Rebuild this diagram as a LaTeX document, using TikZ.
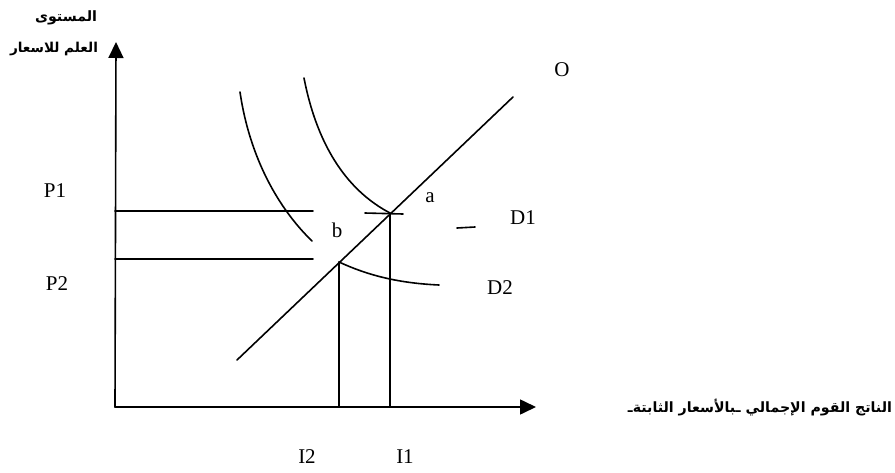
\documentclass[tikz,border=0pt]{standalone}
\usepackage{fontspec}
\setmainfont{Liberation Serif}
\newfontfamily\arabicfont[Script=Arabic]{DejaVu Sans}
\TeXXeTstate=1
\usetikzlibrary{arrows.meta}
\tikzset{
  ln/.style={line width=1.6pt, line cap=round},
  lbl/.style={font=\fontsize{21}{24}\selectfont, inner sep=0pt},
  axis/.style={ln, -{Triangle[length=16pt,width=15pt]}},
}
\begin{document}
\begin{tikzpicture}[x=1pt,y=-1pt]
\useasboundingbox (0,0) rectangle (895,472);
% axes
\coordinate (orig) at (115,407);
\coordinate (ytip) at (116,42);
\coordinate (xtip) at (536,407);
\draw[axis] (orig) -- (ytip);
\draw[axis] (orig) -- (xtip);
% equilibrium points
\coordinate (a) at (390,213);
\coordinate (b) at (339,262);
% supply line
\coordinate (s1) at (237,360);
\coordinate (s2) at (513,97);
\draw[ln] (s1) -- (s2);
% demand curves
\coordinate (d1top) at (304,78);
\draw[ln] (d1top) .. controls (318,150) and (350,192) .. (a);
\coordinate (d2top) at (240,92);
\coordinate (d2end) at (312,241);
\draw[ln] (d2top) .. controls (250,160) and (280,210) .. (d2end);
\coordinate (d2low) at (439,285);
\draw[ln] (b) .. controls (365,274) and (395,283) .. (d2low);
% price lines
\coordinate (p1l) at (115,211);
\coordinate (p1r) at (313,211);
\coordinate (p2l) at (115,259);
\coordinate (p2r) at (313,259);
\draw[ln] (p1l) -- (p1r);
\draw[ln] (p2l) -- (p2r);
\coordinate (sa) at (365,213);
\coordinate (sb) at (403,214);
\draw[ln] (sa) -- (sb);
\coordinate (da) at (457,228);
\coordinate (db) at (475,227);
\draw[ln] (da) -- (db);
% verticals
\coordinate (ia) at (390,407);
\coordinate (ib) at (339,407);
\draw[ln] (a) -- (ia);
\draw[ln] (b) -- (ib);
% labels
\node[lbl] (lO) at (562,70) {O};
\node[lbl] (la) at (430,198) {a};
\node[lbl] (lb) at (337,230) {b};
\node[lbl] (lD1) at (523,218) {D1};
\node[lbl] (lD2) at (500,288) {D2};
\node[lbl] (lP1) at (55,191) {P1};
\node[lbl] (lP2) at (57,284) {P2};
\node[lbl] (lI2) at (307,457) {I2};
\node[lbl] (lI1) at (405,457) {I1};
\node[inner sep=0pt] (yl1) at (66,18) {\resizebox{62pt}{!}{\arabicfont\bfseries\beginR المستوى\endR}};
\node[inner sep=0pt] (yl2) at (54,49) {\resizebox{88pt}{!}{\arabicfont\bfseries\beginR العلم للاسعار\endR}};
\node[inner sep=0pt] (xl) at (760,408) {\resizebox{264pt}{!}{\arabicfont\bfseries\beginR الناتج القوم الإجمالي ـبالأسعار الثابتةـ\endR}};
\end{tikzpicture}
\end{document}
